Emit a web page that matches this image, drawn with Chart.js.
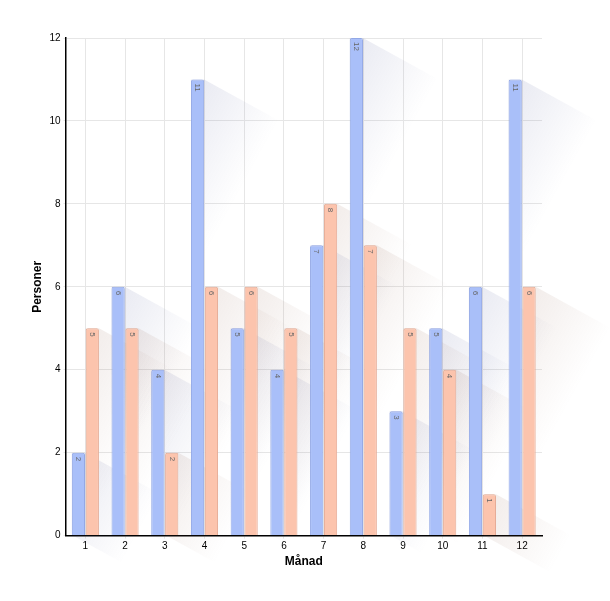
<!DOCTYPE html>
<html><head><meta charset="utf-8">
<script src="https://cdn.jsdelivr.net/npm/chart.js@4"></script>
<style>body{margin:0;background:#fff}#w{width:610px;height:601px}</style>
</head><body><div id="w"><canvas id="c"></canvas></div>
<script>
const months = ['1','2','3','4','5','6','7','8','9','10','11','12'];
const seriesA = [2,6,4,11,5,4,7,12,3,5,6,11];
const seriesB = [5,5,2,6,6,5,8,7,5,4,1,6];
const yTicks = [0,2,4,6,8,10,12];

const shadowPlugin = {
  id:'longShadow',
  beforeDatasetsDraw(chart){
    const ctx = chart.ctx;
    const L = 75, dy = 0.55;
    chart.data.datasets.forEach((ds,i)=>{
      const meta = chart.getDatasetMeta(i);
      const col = i===0 ? '60,70,140' : '140,90,70';
      meta.data.forEach(b=>{
        const w = b.width/2, l=b.x-w, r=b.x+w, t=b.y, bt=b.base;
        const g = ctx.createLinearGradient(r,t,r+L,t+L*dy);
        g.addColorStop(0,'rgba('+col+',0.11)');
        g.addColorStop(1,'rgba('+col+',0)');
        ctx.save();
        ctx.fillStyle=g;
        ctx.beginPath();
        ctx.moveTo(l,t);ctx.lineTo(r,t);ctx.lineTo(r+L,t+L*dy);
        ctx.lineTo(r+L,bt+L*dy);ctx.lineTo(l+L,bt+L*dy);ctx.lineTo(l,bt);
        ctx.closePath();ctx.fill();ctx.restore();
      });
    });
  }
};
const labelPlugin = {
  id:'vals',
  afterDatasetsDraw(chart){
    const ctx=chart.ctx;
    chart.data.datasets.forEach((ds,i)=>{
      chart.getDatasetMeta(i).data.forEach((b,j)=>{
        ctx.save();
        ctx.translate(b.x,b.y+4);
        ctx.rotate(Math.PI/2);
        ctx.fillStyle='#666';
        ctx.font='8px Arial, "Liberation Sans"';
        ctx.textAlign='left';ctx.textBaseline='middle';
        ctx.fillText(String(ds.data[j]),0,0);
        ctx.restore();
      });
    });
  }
};
new Chart(document.getElementById('c'),{
  type:'bar',
  data:{labels:months,datasets:[
    {data:seriesA,backgroundColor:'#a9bff9',borderColor:'#92a8e6',borderWidth:1,borderRadius:2,borderSkipped:'bottom'},
    {data:seriesB,backgroundColor:'#fcc4ad',borderColor:'#e6ac96',borderWidth:1,borderRadius:2,borderSkipped:'bottom'}
  ]},
  options:{
    responsive:true,maintainAspectRatio:false,animation:false,
    layout:{padding:{left:28,right:68,top:38,bottom:32}},
    plugins:{legend:{display:false},tooltip:{enabled:false}},
    datasets:{bar:{categoryPercentage:0.7,barPercentage:0.95}},
    scales:{
      x:{grid:{color:'#e6e6e6',offset:false,tickLength:3},border:{color:'#000',width:1.5},
         ticks:{color:'#000',padding:2,font:{size:10,family:'Arial, "Liberation Sans"'}},
         title:{display:true,text:'Månad',color:'#000',padding:0,font:{size:12,weight:'bold',family:'Arial, "Liberation Sans"'}}},
      y:{min:0,max:12,afterBuildTicks(a){a.ticks=yTicks.map(v=>({value:v}));},
         grid:{color:'#e6e6e6',tickLength:2},border:{color:'#000',width:1.5},
         ticks:{color:'#000',padding:3,font:{size:10,family:'Arial, "Liberation Sans"'}},
         title:{display:true,text:'Personer',color:'#000',padding:2,font:{size:12,weight:'bold',family:'Arial, "Liberation Sans"'}}}
    }
  },
  plugins:[shadowPlugin,labelPlugin]
});
</script></body></html>
